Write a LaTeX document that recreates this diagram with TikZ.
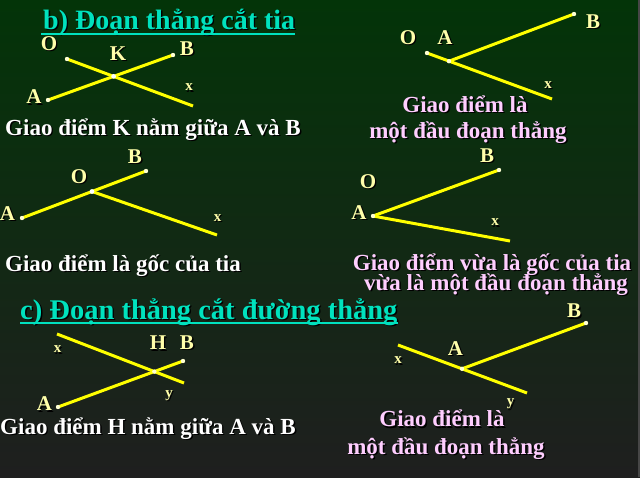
\documentclass[tikz,border=0pt]{standalone}
\usepackage{fontspec}
\setmainfont{Liberation Serif}
\definecolor{bgtop}{RGB}{3,52,8}
\definecolor{bgmid}{RGB}{16,38,18}
\definecolor{bgbot}{RGB}{31,31,31}
\definecolor{edgec}{RGB}{70,70,70}
\definecolor{lblc}{RGB}{255,255,170}
\definecolor{ttlc}{RGB}{0,226,190}
\definecolor{pinkc}{RGB}{255,206,255}
\definecolor{linec}{RGB}{255,255,0}
\definecolor{dotc}{RGB}{255,255,210}
\definecolor{shadc}{RGB}{0,0,0}
\newcommand\shd[1]{\makebox[0pt][l]{\hspace{1.4pt}\raisebox{-1.4pt}{\color{shadc}#1}}#1}
\tikzset{
 lbl/.style={text=lblc, inner sep=0pt, font=\fontsize{21}{24}\selectfont\bfseries},
 sml/.style={text=lblc, inner sep=0pt, font=\fontsize{15}{18}\selectfont\bfseries},
 capw/.style={text=white, inner sep=0pt, anchor=base, font=\fontsize{23}{27}\selectfont\bfseries},
 capp/.style={text=pinkc, inner sep=0pt, anchor=base, font=\fontsize{23}{27}\selectfont\bfseries},
 ttl/.style={text=ttlc, inner sep=0pt, anchor=base west, font=\fontsize{28}{32}\selectfont\bfseries},
 uline/.style={draw=ttlc, line width=2pt},
 seg/.style={draw=linec, line width=3pt},
 ept/.style={fill=dotc}
}
\begin{document}
\begin{tikzpicture}[x=1pt,y=-1pt]
\useasboundingbox (0,0) rectangle (640,477);
\shade[top color=bgtop, middle color=bgmid, bottom color=bgbot] (0,0) rectangle (640,477);
\fill[edgec] (637.5,0) rectangle (640,477);

% headings
\node[ttl] (hb) at (43,29) {\shd{b) Đoạn thẳng cắt tia}};
\draw[uline] ([xshift=-2pt,yshift=-4.5pt]hb.base west) -- ([yshift=-4.5pt]hb.base east);
\node[ttl, font=\fontsize{28.5}{32}\selectfont\bfseries] (hc) at (20,319) {\shd{c) Đoạn thẳng cắt đường thẳng}};
\draw[uline] ([yshift=-4pt]hc.base west) -- ([yshift=-4pt]hc.base east);

% diagram 1
\coordinate (O1) at (67,59);
\coordinate (X1) at (193,106);
\coordinate (A1) at (48,100);
\coordinate (B1) at (173,55);
\coordinate (K1) at (intersection of A1--B1 and O1--X1);
\draw[seg] (O1) -- (X1);
\draw[seg] (A1) -- (B1);
\foreach \p in {O1,A1,B1} \fill[ept] (\p) circle (2.2pt);
\fill[white] (K1) circle (2.4pt);
\node[lbl] (lO1) at (49,44) {\shd{O}};
\node[lbl] (lK1) at (118,54) {\shd{K}};
\node[lbl] (lB1) at (187,49) {\shd{B}};
\node[sml] (lX1) at (189,88) {\shd{x}};
\node[lbl] (lA1) at (34,97.5) {\shd{A}};
\node[capw] (c1) at (153,135) {\shd{Giao điểm K nằm giữa A và B}};

% diagram 2
\coordinate (O2) at (427,53);
\coordinate (X2) at (552,99);
\coordinate (A2) at (449,61.2);
\coordinate (B2) at (574,14);
\draw[seg] (O2) -- (X2);
\draw[seg] (A2) -- (B2);
\foreach \p in {O2,A2,B2} \fill[ept] (\p) circle (2.2pt);
\node[lbl] (lO2) at (408,38) {\shd{O}};
\node[lbl] (lA2) at (445,38) {\shd{A}};
\node[lbl] (lB2) at (593,22) {\shd{B}};
\node[sml] (lX2) at (548,85.5) {\shd{x}};
\node[capp] (c2a) at (465,112) {\shd{Giao điểm là}};
\node[capp] (c2b) at (468,138) {\shd{một đầu đoạn thẳng}};

% diagram 3
\coordinate (A3) at (22,218);
\coordinate (B3) at (146,171);
\coordinate (O3) at (92,191.5);
\coordinate (X3) at (217,235);
\draw[seg] (A3) -- (B3);
\draw[seg] (O3) -- (X3);
\foreach \p in {A3,B3} \fill[ept] (\p) circle (2.2pt);
\fill[white] (O3) circle (2.4pt);
\node[lbl] (lB3) at (135,157) {\shd{B}};
\node[lbl] (lO3) at (79,177) {\shd{O}};
\node[lbl] (lA3) at (7.5,214) {\shd{A}};
\node[sml] (lX3) at (217.5,218.5) {\shd{x}};
\node[capw] (c3) at (123,271.5) {\shd{Giao điểm là gốc của tia}};

% diagram 4
\coordinate (A4) at (373,216);
\coordinate (B4) at (499,170);
\coordinate (X4) at (510,241);
\draw[seg] (A4) -- (B4);
\draw[seg] (A4) -- (X4);
\foreach \p in {A4,B4} \fill[ept] (\p) circle (2.2pt);
\node[lbl] (lB4) at (487,156) {\shd{B}};
\node[lbl] (lO4) at (368,182) {\shd{O}};
\node[lbl] (lA4) at (359,213) {\shd{A}};
\node[sml] (lX4) at (495,223) {\shd{x}};
\node[capp] (c4a) at (492,270.5) {\shd{Giao điểm vừa là gốc của tia}};
\node[capp] (c4b) at (496,290.5) {\shd{vừa là một đầu đoạn thẳng}};

% diagram 5
\coordinate (X5) at (57,334);
\coordinate (Y5) at (184,383);
\coordinate (A5) at (58,407);
\coordinate (B5) at (183,361);
\coordinate (H5) at (intersection of A5--B5 and X5--Y5);
\draw[seg] (X5) -- (Y5);
\draw[seg] (A5) -- (B5);
\foreach \p in {A5,B5,H5} \fill[ept] (\p) circle (2.2pt);
\node[sml] (lX5) at (57.5,350) {\shd{x}};
\node[lbl] (lH5) at (158,343.5) {\shd{H}};
\node[lbl] (lB5) at (187,343) {\shd{B}};
\node[sml] (lY5) at (169,396) {\shd{y}};
\node[lbl] (lA5) at (44.5,404.5) {\shd{A}};
\node[capw] (c5) at (148,434) {\shd{Giao điểm H nằm giữa A và B}};

% diagram 6
\coordinate (X6) at (398,345);
\coordinate (Y6) at (527,393);
\coordinate (A6) at (462,368.8);
\coordinate (B6) at (586,323);
\draw[seg] (X6) -- (Y6);
\draw[seg] (A6) -- (B6);
\foreach \p in {A6,B6} \fill[ept] (\p) circle (2.2pt);
\node[lbl] (lB6) at (574,311.5) {\shd{B}};
\node[lbl] (lA6) at (455.5,349) {\shd{A}};
\node[sml] (lX6) at (398,361) {\shd{x}};
\node[sml] (lY6) at (510.5,404.5) {\shd{y}};
\node[capp] (c6a) at (442,426.7) {\shd{Giao điểm là}};
\node[capp] (c6b) at (446,454) {\shd{một đầu đoạn thẳng}};
\end{tikzpicture}
\end{document}
